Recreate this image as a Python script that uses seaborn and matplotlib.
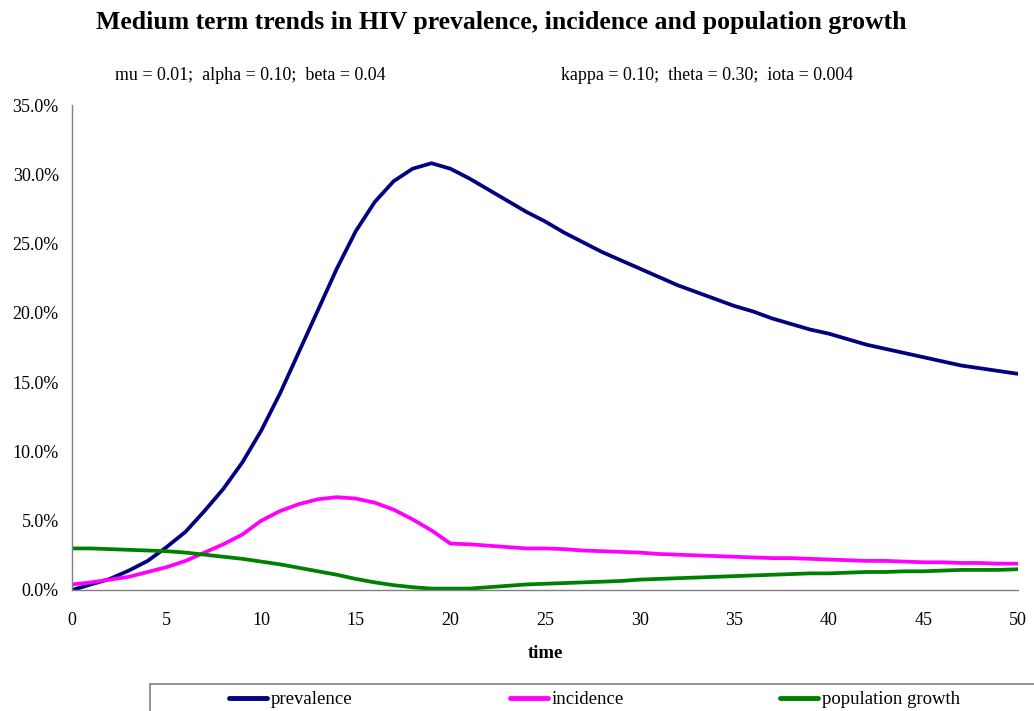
import numpy as np
import pandas as pd
import matplotlib
matplotlib.use("Agg")
import matplotlib.pyplot as plt
from matplotlib.lines import Line2D
from matplotlib.patches import Rectangle
from matplotlib.ticker import FuncFormatter, MultipleLocator
import seaborn as sns

# Annual model output, percent of population
time = list(range(0, 51))

prevalence = [
    0.0, 0.4, 0.8, 1.4, 2.1, 3.1, 4.2, 5.7, 7.3, 9.2,
    11.5, 14.2, 17.2, 20.2, 23.2, 25.9, 28.0, 29.5, 30.4, 30.8,
    30.4, 29.7, 28.9, 28.1, 27.3, 26.6, 25.8, 25.1, 24.4, 23.8,
    23.2, 22.6, 22.0, 21.5, 21.0, 20.5, 20.1, 19.6, 19.2, 18.8,
    18.5, 18.1, 17.7, 17.4, 17.1, 16.8, 16.5, 16.2, 16.0, 15.8,
    15.6,
]

incidence = [
    0.4, 0.55, 0.75, 0.95, 1.3, 1.65, 2.1, 2.7, 3.3, 4.0,
    5.0, 5.7, 6.2, 6.55, 6.7, 6.6, 6.3, 5.8, 5.1, 4.3,
    3.35, 3.3, 3.2, 3.1, 3.0, 3.0, 2.95, 2.85, 2.8, 2.75,
    2.7, 2.6, 2.55, 2.5, 2.45, 2.4, 2.35, 2.3, 2.3, 2.25,
    2.2, 2.15, 2.1, 2.1, 2.05, 2.0, 2.0, 1.95, 1.95, 1.9,
    1.9,
]

population_growth = [
    3.0, 3.0, 2.95, 2.9, 2.85, 2.8, 2.7, 2.55, 2.4, 2.25,
    2.05, 1.85, 1.6, 1.35, 1.1, 0.8, 0.55, 0.35, 0.2, 0.1,
    0.1, 0.1, 0.2, 0.3, 0.4, 0.45, 0.5, 0.55, 0.6, 0.65,
    0.75, 0.8, 0.85, 0.9, 0.95, 1.0, 1.05, 1.1, 1.15, 1.2,
    1.2, 1.25, 1.3, 1.3, 1.35, 1.35, 1.4, 1.45, 1.45, 1.45,
    1.5,
]

series_names = ["prevalence", "incidence", "population growth"]
series_colors = ["#000080", "#FF00FF", "#008000"]

title = "Medium term trends in HIV prevalence, incidence and population growth"
params_left = "mu = 0.01;  alpha = 0.10;  beta = 0.04"
params_right = "kappa = 0.10;  theta = 0.30;  iota = 0.004"

df = pd.DataFrame({
    "time": time * 3,
    "value": prevalence + incidence + population_growth,
    "series": sum([[n] * len(time) for n in series_names], []),
})

sns.set_style("white")
plt.rcParams["font.family"] = ["Liberation Serif", "DejaVu Serif"]
plt.rcParams["text.color"] = "black"
plt.rcParams["axes.labelcolor"] = "black"

fig = plt.figure(figsize=(10.34, 7.11), dpi=100)
ax = fig.add_axes([72 / 1034, 1 - 590 / 711, (1018 - 72) / 1034, (590 - 105) / 711])

sns.lineplot(
    data=df, x="time", y="value", hue="series",
    hue_order=series_names, palette=series_colors,
    linewidth=2.7, legend=False, ax=ax,
    solid_joinstyle="round", solid_capstyle="round",
)

ax.set_xlim(0, 50)
ax.set_ylim(0, 35)
ax.xaxis.set_major_locator(MultipleLocator(5))
ax.yaxis.set_major_locator(MultipleLocator(5))
ax.yaxis.set_major_formatter(FuncFormatter(lambda v, p: f"{v:.1f}%"))

for side in ("top", "right"):
    ax.spines[side].set_visible(False)
for side in ("left", "bottom"):
    ax.spines[side].set_color("#808080")
    ax.spines[side].set_linewidth(1.0)

ax.tick_params(axis="both", which="major", direction="out", length=5.5,
               width=1.0, color="#808080", labelsize=13, labelcolor="black")
ax.tick_params(axis="x", pad=10)
ax.tick_params(axis="y", pad=4)

ax.set_xlabel("time", fontsize=13.5, fontweight="bold", labelpad=12)
ax.set_ylabel("")

fig.text(501 / 1034, 1 - 22 / 711, title, ha="center", va="center",
         fontsize=18.5, fontweight="bold")
fig.text(115 / 1034, 1 - 75 / 711, params_left, ha="left", va="center", fontsize=12.9)
fig.text(561 / 1034, 1 - 75 / 711, params_right, ha="left", va="center", fontsize=12.9)

# Legend box running off the lower right corner
box = Rectangle((150 / 1034, -0.05), 0.95, (1 - 684 / 711) + 0.05,
                transform=fig.transFigure, facecolor="white",
                edgecolor="#808080", linewidth=1.2, clip_on=False)
fig.patches.append(box)

entry_x = [229, 510, 780]
handle_y = 1 - 698 / 711
text_y = 1 - 700 / 711
for name, color, x0 in zip(series_names, series_colors, entry_x):
    fig.lines.append(Line2D([x0 / 1034, (x0 + 38) / 1034], [handle_y, handle_y],
                            transform=fig.transFigure, color=color,
                            linewidth=3.5, solid_capstyle="round"))
    fig.text((x0 + 42) / 1034, text_y, name, ha="left", va="center", fontsize=13.5)

fig.savefig("out.png", dpi=100)
